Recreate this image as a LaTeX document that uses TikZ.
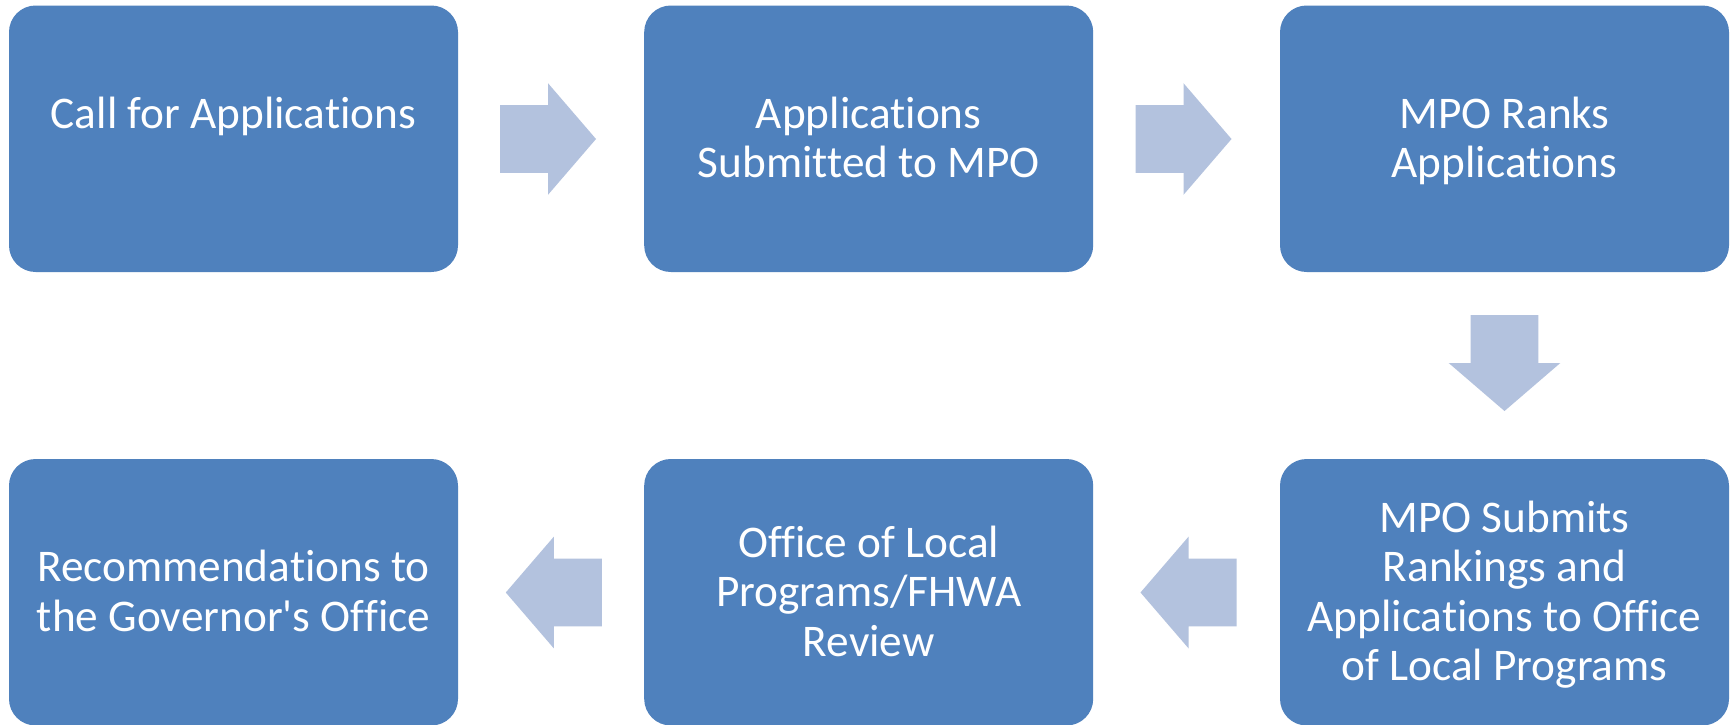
\documentclass[tikz,border=0pt]{standalone}
\usepackage{fontspec}
\setmainfont{Carlito}[Ligatures={TeXOff,NoCommon}]
\definecolor{boxblue}{HTML}{4F81BD}
\definecolor{arrowblue}{HTML}{B3C2DE}
\newcommand\ls{\rule[-10.45pt]{0pt}{49.5pt}}
\begin{document}
\begin{tikzpicture}[x=1pt,y=-1pt,
  stepbox/.style={fill=boxblue, rounded corners=26.65, minimum width=449, minimum height=266.5,
    inner sep=0pt, align=center, text=white, font=\fontsize{45.3}{49.5}\selectfont},
  blockarrow/.style={fill=arrowblue}]
\clip (0,0) rectangle (1733,724);
\fill[white] (0,0) rectangle (1733,724);
% boxes
\node[stepbox] (b1) at (233.5,138.75) {Call for Applications\ls\\\ls};
\node[stepbox] (b2) at (868.7,138.75) {Applications\ls\\Submitted to MPO\ls};
\node[stepbox] (b3) at (1504.5,138.75) {MPO Ranks\ls\\Applications\ls};
\node[stepbox] (b4) at (1504.5,592.25) {MPO Submits\ls\\Rankings and\ls\\Applications to Office\ls\\of Local Programs\ls};
\node[stepbox] (b5) at (868.7,592.25) {Office of Local\ls\\Programs/FHWA\ls\\Review\ls};
\node[stepbox] (b6) at (233.5,592.25) {Recommendations to\ls\\the Governor's Office\ls};
% arrow anchors
\coordinate (a12) at (548,139);
\coordinate (a23) at (1183.5,139);
\coordinate (a34) at (1504.5,363);
\coordinate (a45) at (1188.5,592.5);
\coordinate (a56) at (553.8,592.5);
\foreach \c/\r in {a12/0,a23/0,a34/-90,a45/180,a56/180}{
  \fill[blockarrow, shift={(\c)}, rotate=\r]
    (-48,-33.8) -- (0,-33.8) -- (0,-55.8) -- (48,0) -- (0,55.8) -- (0,33.8) -- (-48,33.8) -- cycle;
}
\end{tikzpicture}
\end{document}
